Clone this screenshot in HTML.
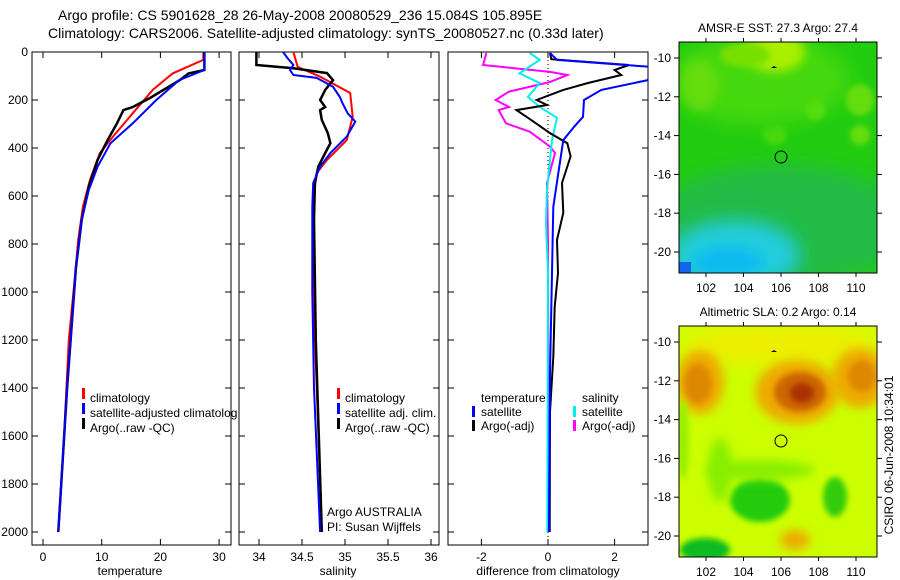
<!DOCTYPE html>
<html><head><meta charset="utf-8">
<style>
html,body{margin:0;padding:0;background:#fff;}
svg{display:block;font-family:"Liberation Sans",sans-serif;}
text{fill:#000;}
</style></head>
<body>
<svg id="chart" width="900" height="580" viewBox="0 0 900 580" xmlns="http://www.w3.org/2000/svg">
<defs>
<clipPath id="c1"><rect x="32" y="52" width="207" height="493"/></clipPath>
<clipPath id="c2"><rect x="239" y="52" width="200" height="493"/></clipPath>
<clipPath id="c3"><rect x="448" y="52" width="200" height="493"/></clipPath>
<clipPath id="m1"><rect x="679" y="42" width="198" height="231"/></clipPath>
<clipPath id="m2"><rect x="679" y="326" width="198" height="231"/></clipPath>
<filter id="bl" x="-50%" y="-50%" width="200%" height="200%"><feGaussianBlur stdDeviation="9"/></filter>
<filter id="bl2" x="-50%" y="-50%" width="200%" height="200%"><feGaussianBlur stdDeviation="5"/></filter>
<filter id="bl3" x="-50%" y="-50%" width="200%" height="200%"><feGaussianBlur stdDeviation="3"/></filter>
</defs>
<text x="58" y="20" font-size="14">Argo profile: CS 5901628_28 26-May-2008 20080529_236 15.084S 105.895E</text>
<text x="48" y="38" font-size="14">Climatology: CARS2006. Satellite-adjusted climatology: synTS_20080527.nc (0.33d later)</text>

<!-- maps -->
<g>
<text x="778" y="32" font-size="12" text-anchor="middle">AMSR-E SST: 27.3 Argo: 27.4</text>
<g clip-path="url(#m1)">
<rect x="679" y="42" width="198" height="231" fill="#22cc11"/>
<ellipse cx="760" cy="80" rx="90" ry="45" fill="#44d811" filter="url(#bl)"/>
<ellipse cx="775" cy="52" rx="30" ry="20" fill="#aaee00" filter="url(#bl2)"/>
<ellipse cx="745" cy="55" rx="25" ry="12" fill="#77e000" filter="url(#bl3)"/>
<ellipse cx="700" cy="85" rx="18" ry="25" fill="#66dd11" filter="url(#bl2)"/>
<ellipse cx="860" cy="100" rx="14" ry="16" fill="#66dd11" filter="url(#bl3)"/>
<ellipse cx="860" cy="135" rx="10" ry="10" fill="#66dd11" filter="url(#bl3)"/>
<ellipse cx="815" cy="110" rx="10" ry="10" fill="#55dd11" filter="url(#bl3)"/>
<ellipse cx="775" cy="135" rx="12" ry="10" fill="#44d811" filter="url(#bl3)"/>
<ellipse cx="780" cy="225" rx="130" ry="60" fill="#22bb44" filter="url(#bl)"/>
<ellipse cx="735" cy="255" rx="65" ry="35" fill="#22ccdd" filter="url(#bl)"/>
<ellipse cx="728" cy="262" rx="35" ry="15" fill="#11bbee" filter="url(#bl2)"/>
<rect x="679" y="262" width="12" height="11" fill="#1166ee"/>
</g>
<rect x="679" y="42" width="198" height="231" fill="none" stroke="#000"/>
<circle cx="781" cy="157" r="6" fill="none" stroke="#000"/>
<path d="M771 68 l3 -2 l3 2 z" fill="#000"/>
</g>
<g>
<text x="778" y="316" font-size="12" text-anchor="middle">Altimetric SLA: 0.2 Argo: 0.14</text>
<g clip-path="url(#m2)">
<rect x="679" y="326" width="198" height="231" fill="#ccff00"/>
<ellipse cx="780" cy="345" rx="100" ry="20" fill="#eeee00" filter="url(#bl)"/>
<ellipse cx="700" cy="382" rx="24" ry="32" fill="#eeaa00" filter="url(#bl2)"/>
<ellipse cx="698" cy="384" rx="14" ry="20" fill="#dd8800" filter="url(#bl3)"/>
<ellipse cx="797" cy="392" rx="42" ry="32" fill="#eeaa00" filter="url(#bl2)"/>
<ellipse cx="800" cy="392" rx="26" ry="20" fill="#cc6600" filter="url(#bl3)"/>
<ellipse cx="802" cy="393" rx="12" ry="10" fill="#aa3300" filter="url(#bl3)"/>
<ellipse cx="860" cy="378" rx="28" ry="30" fill="#eeaa00" filter="url(#bl2)"/>
<ellipse cx="862" cy="376" rx="14" ry="16" fill="#dd8800" filter="url(#bl3)"/>
<ellipse cx="760" cy="500" rx="30" ry="22" fill="#22cc11" filter="url(#bl3)"/>
<ellipse cx="705" cy="550" rx="25" ry="12" fill="#11bb22" filter="url(#bl3)"/>
<ellipse cx="835" cy="497" rx="12" ry="20" fill="#33cc11" filter="url(#bl3)"/>
<ellipse cx="760" cy="470" rx="55" ry="10" fill="#88ee00" filter="url(#bl2)"/>
<ellipse cx="720" cy="470" rx="12" ry="32" fill="#88ee00" filter="url(#bl2)"/>
<ellipse cx="683" cy="440" rx="6" ry="40" fill="#99ee00" filter="url(#bl3)"/>
<ellipse cx="795" cy="540" rx="15" ry="10" fill="#eeaa00" filter="url(#bl2)"/>
</g>
<rect x="679" y="326" width="198" height="231" fill="none" stroke="#000"/>
<circle cx="781" cy="441" r="6" fill="none" stroke="#000"/>
<path d="M771 352 l3 -2 l3 2 z" fill="#000"/>
</g>
<text transform="translate(893,455) rotate(-90)" font-size="12" text-anchor="middle">CSIRO 06-Jun-2008 10:34:01</text>
<g id="maxes"></g>

<g id="panels"></g>
</svg>
<script>
// ---- data ----
const tempClimDepth = [0,30,33,89,158,255,353,421,533,645,783,921,1200,1600,2000];
const tempClimVal   = [27.3,27.3,27.3,22.1,18.7,15.3,11.9,9.7,8.0,6.8,6.0,5.5,4.4,3.6,2.6];
const tempSatDepth  = [0,75,117,200,297,380,478,575,700,900,1400,2000];
const tempSatVal    = [27.5,27.5,23.2,19.3,15.3,11.5,9.3,7.8,6.6,5.6,4.1,2.6];
const tempArgoDepth = [0,75,89,117,192,229,242,297,367,450,560,700,900,1400,2000];
const tempArgoVal   = [27.5,27.5,24.8,23.3,18.2,15.3,13.7,12.6,11.0,9.3,7.8,6.6,5.6,4.1,2.6];

const salClimDepth = [0,62,103,171,270,367,450,505,617,1000,1870];
const salClimVal   = [34.40,34.45,34.71,35.06,35.09,35.02,34.79,34.67,34.63,34.63,34.72];
const salSatDepth  = [0,25,54,75,96,108,145,187,212,255,290,353,421,478,546,645,1000,1400,2000];
const salSatVal    = [34.28,34.33,34.40,34.36,34.40,34.67,34.86,34.94,34.97,35.03,35.12,35.02,34.83,34.71,34.63,34.62,34.62,34.64,34.71];
const salArgoDepth = [0,54,68,88,117,158,200,229,242,283,338,380,421,478,546,700,1200,2000];
const salArgoVal   = [33.97,33.97,34.40,34.79,34.86,34.77,34.71,34.77,34.71,34.73,34.80,34.83,34.77,34.69,34.65,34.64,34.66,34.73];

const dTSatDepth  = [4,33,62,117,158,200,270,312,367,505,645,921,1338,2000];
const dTSatVal    = [0.06,0.27,3.1,3.0,1.6,1.08,1.05,0.78,0.46,0.31,0.16,0.12,0.06,0.03];
const dTArgoDepth = [4,30,54,75,96,129,158,200,221,242,274,338,380,435,546,670,783,921,1061,1271,1500,2000];
const dTArgoVal   = [0.06,0.1,2.43,2.0,2.2,1.2,0.46,-0.34,-0.03,-0.95,-0.6,0.06,0.58,0.68,0.42,0.46,0.27,0.3,0.2,0.16,0.06,0.05];
const dSSatDepth  = [4,33,89,129,187,229,274,367,575,713,921,2000];
const dSSatVal    = [-0.55,-0.25,-0.86,-0.25,-0.6,-0.25,0.27,0.12,-0.03,-0.06,0,-0.02];
const dSArgoDepth = [4,54,83,96,125,165,200,229,242,297,332,394,421,546,800,2000];
const dSArgoVal   = [-1.85,-1.95,0.06,0.58,0.06,-1.17,-1.57,-1.17,-1.48,-1.26,-0.55,0.06,0.21,-0.03,0,0.02];

const depthTicks = [0,200,400,600,800,1000,1200,1400,1600,1800,2000];
const tempTicks = [0,10,20,30];
const salTicks = ["34","34.5","35","35.5","36"];
const diffTicks = [-2,0,2];
const latTicks = [-10,-12,-14,-16,-18,-20];
const lonTicks = [102,104,106,108,110];

// ---- scales ----
const NS = "http://www.w3.org/2000/svg";
const yD = d => 52 + d*0.24;
const xT = v => 43 + v*5.87;
const xS = v => 259 + (v-34)*86;
const xDf = v => 548 + v*33.3;
const G = document.getElementById('panels');
function mk(tag, attrs, parent){const e=document.createElementNS(NS,tag);for(const k in attrs)e.setAttribute(k,attrs[k]);(parent||G).appendChild(e);return e;}
function line(xs, ds, vs, color, w, clip, name){
  const p = vs.map((v,i)=>(i?'L':'M')+xs(v).toFixed(1)+' '+yD(ds[i]).toFixed(1)).join(' ');
  const e = mk('path',{d:p,fill:'none',stroke:color,'stroke-width':w,'clip-path':'url(#'+clip+')'});
  
  
}
function panel(x0,x1,name){
  const r = mk('rect',{x:x0,y:52,width:x1-x0,height:493,fill:'#fff',stroke:'#000'});
  
  
  depthTicks.forEach(d=>{mk('line',{x1:x0,x2:x0+6,y1:yD(d),y2:yD(d),stroke:'#000'});mk('line',{x1:x1,x2:x1-6,y1:yD(d),y2:yD(d),stroke:'#000'});});
}
function xticks(vals, xs, x0){
  vals.forEach(v=>{const x=xs(+v);
    mk('line',{x1:x,x2:x,y1:545,y2:539,stroke:'#000'});mk('line',{x1:x,x2:x,y1:52,y2:58,stroke:'#000'});
    const t=mk('text',{x:x,y:561,'font-size':12,'text-anchor':'middle'});t.textContent=v;
    
    
  });
}
function label(x,y,txt,name,anchor){const t=mk('text',{x:x,y:y,'font-size':12,'text-anchor':anchor||'start'});t.textContent=txt;
  
  
  return t;}
function mark(x,y,c){mk('rect',{x:x,y:y-10,width:3,height:11,fill:c});}

// panel 1
panel(32,231,'temperature-panel');
depthTicks.forEach(d=>{const t=label(28,yD(d)+4,d,'y-tick-label','end');});
xticks(tempTicks,xT);
line(xT,tempClimDepth,tempClimVal,'#f00',2,'c1','temp-climatology-line');
line(xT,tempArgoDepth,tempArgoVal,'#000',2.5,'c1','temp-argo-line');
line(xT,tempSatDepth,tempSatVal,'#00f',2,'c1','temp-satellite-line');
label(130,575,'temperature','x-axis-title-temperature','middle');
// panel 2
panel(239,439,'salinity-panel');
xticks(salTicks,xS);
line(xS,salClimDepth,salClimVal,'#f00',2,'c2','sal-climatology-line');
line(xS,salArgoDepth,salArgoVal,'#000',2.5,'c2','sal-argo-line');
line(xS,salSatDepth,salSatVal,'#00f',2,'c2','sal-satellite-line');
label(338,575,'salinity','x-axis-title-salinity','middle');
// panel 3
panel(448,648,'difference-panel');
mk('line',{x1:548,x2:548,y1:52,y2:545,stroke:'#000','stroke-dasharray':'1,3'});
xticks(diffTicks,xDf);
line(xDf,dSArgoDepth,dSArgoVal,'#f0f',2,'c3','sal-argo-diff-line');
line(xDf,dSSatDepth,dSSatVal,'#0ee',2,'c3','sal-satellite-diff-line');
line(xDf,dTArgoDepth,dTArgoVal,'#000',2,'c3','temp-argo-diff-line');
line(xDf,dTSatDepth,dTSatVal,'#00f',2,'c3','temp-satellite-diff-line');
label(548,575,'difference from climatology','x-axis-title-difference','middle');

// legends
mark(82,398,'#f00');label(90,402,'climatology','legend-climatology');
mark(82,413,'#00f');label(90,417,'satellite-adjusted climatolog','legend-satellite-adjusted');
mark(82,428,'#000');label(90,432,'Argo(..raw -QC)','legend-argo');
mark(337,398,'#f00');label(345,402,'climatology','legend2-climatology');
mark(337,413,'#00f');label(345,417,'satellite adj. clim.','legend2-satellite');
mark(337,428,'#000');label(345,432,'Argo(..raw -QC)','legend2-argo');
label(327,516,'Argo AUSTRALIA','institution-label');
label(327,531,'PI: Susan Wijffels','pi-label');
label(481,402,'temperature','legend3-temperature-heading');
mark(472,416,'#00f');label(481,416,'satellite','legend3-temp-satellite');
mark(472,430,'#000');label(481,430,'Argo(-adj)','legend3-temp-argo');
label(582,402,'salinity','legend3-salinity-heading');
mark(573,416,'#0ee');label(582,416,'satellite','legend3-sal-satellite');
mark(573,430,'#f0f');label(582,430,'Argo(-adj)','legend3-sal-argo');

// map axes
const M = document.getElementById('maxes');
function mapAxes(top, y10, y20){
  const sy = (y20-y10)/10;
  latTicks.forEach(v=>{const y=y10+(-10-v)*sy;
    mk('line',{x1:679,x2:674,y1:y,y2:y,stroke:'#000'},M);mk('line',{x1:877,x2:882,y1:y,y2:y,stroke:'#000'},M);
    const t=mk('text',{x:671,y:y+4,'font-size':12,'text-anchor':'end'},M);t.textContent=v;
    
    
  });
  lonTicks.forEach(v=>{const x=706+(v-102)*18.75;
    mk('line',{x1:x,x2:x,y1:top,y2:top-4,stroke:'#000'},M);mk('line',{x1:x,x2:x,y1:top+231,y2:top+235,stroke:'#000'},M);
    const t=mk('text',{x:x,y:top+250,'font-size':12,'text-anchor':'middle'},M);t.textContent=v;
    
    
  });
}
mapAxes(42,58,252);
mapAxes(326,342,536);
</script>
</body></html>
